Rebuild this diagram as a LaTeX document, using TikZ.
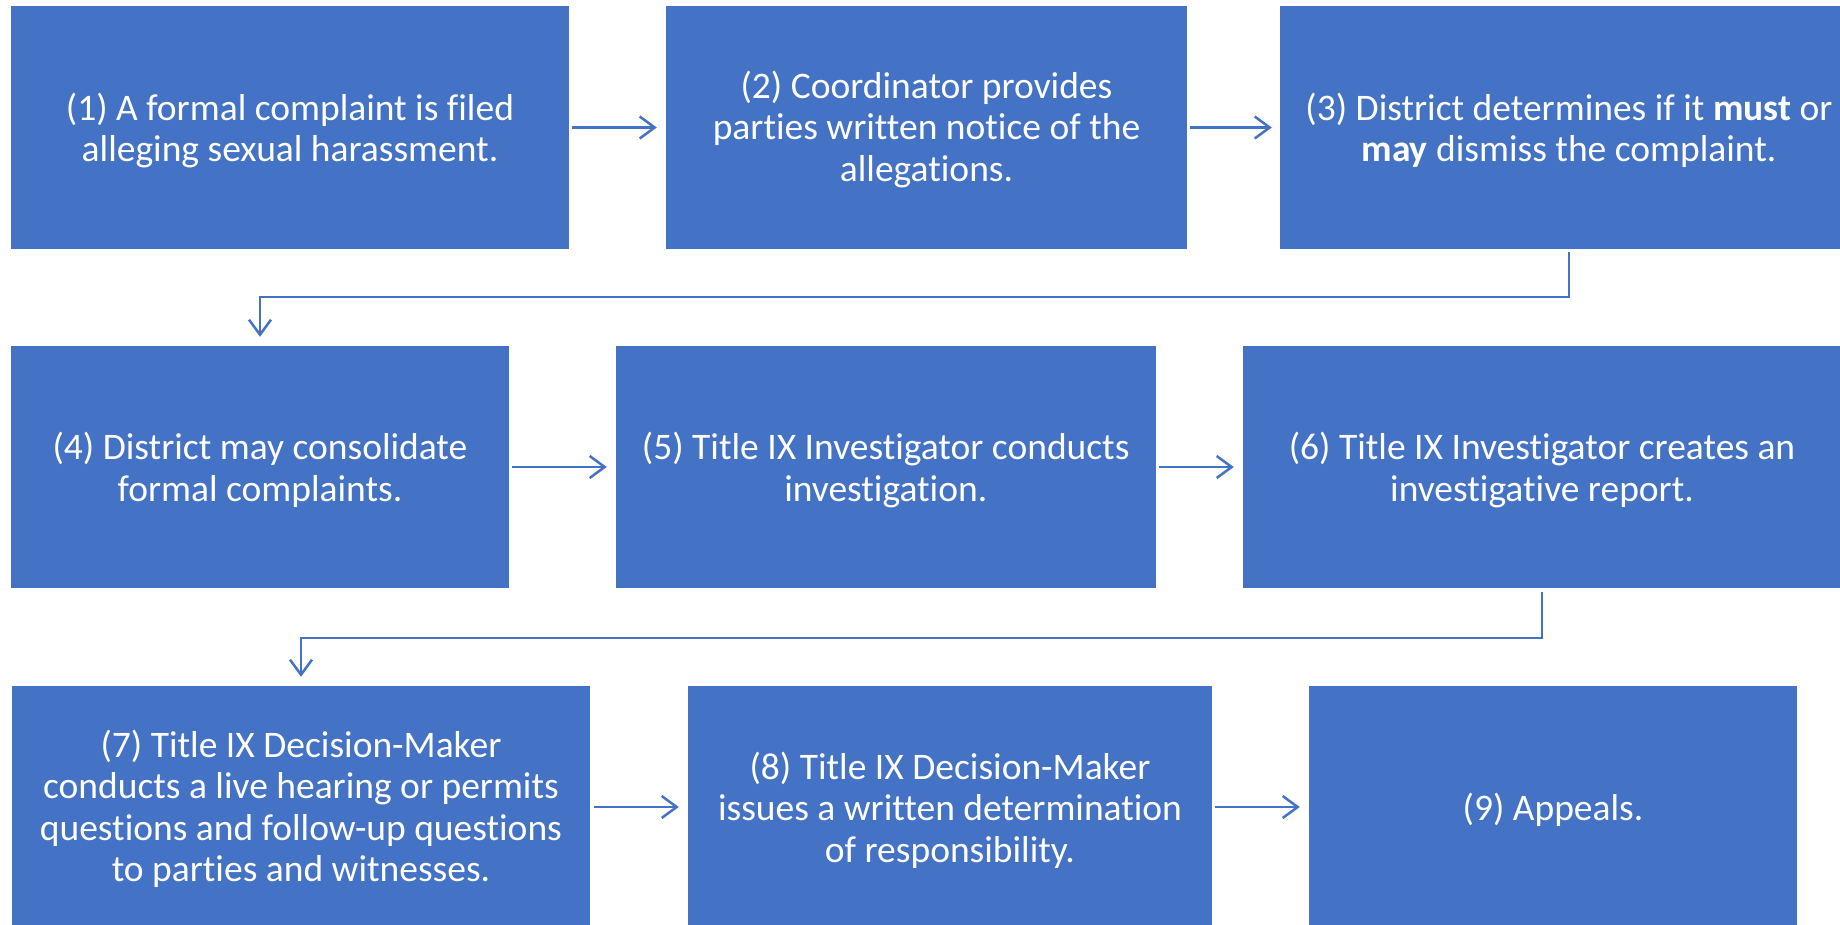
\documentclass[tikz,border=0pt]{standalone}
\usepackage{fontspec}
\setmainfont[Ligatures=NoCommon]{Carlito}
\usetikzlibrary{arrows.meta}
\definecolor{accent}{HTML}{4472C4}
\tikzset{
  stepbox/.style={fill=accent, inner sep=0pt, minimum height=242pt},
  steptext/.style={text=white, align=center, inner sep=0pt,
    font=\fontsize{37.5}{41.5}\selectfont},
  conn/.style={draw=accent, line width=2.5pt,
    -{Straight Barb[length=15pt,width=22pt]}},
}
\begin{document}
\begin{tikzpicture}[x=1pt,y=-1pt]
\path[use as bounding box, fill=white] (0,0) rectangle (1840,925);
% row 1
\node[stepbox, minimum width=558pt, minimum height=243pt] (b1) at (290,127.5) {};
\node[stepbox, minimum width=521pt, minimum height=243pt] (b2) at (926.5,127.5) {};
\node[stepbox, minimum width=578pt, minimum height=243pt] (b3) at (1569,127.5) {};
% row 2
\node[stepbox, minimum width=498pt] (b4) at (260,467) {};
\node[stepbox, minimum width=540.5pt] (b5) at (885.75,467) {};
\node[stepbox, minimum width=598pt] (b6) at (1542,467) {};
% row 3
\node[stepbox, minimum width=578pt] (b7) at (301,807) {};
\node[stepbox, minimum width=524pt] (b8) at (950,807) {};
\node[stepbox, minimum width=488pt] (b9) at (1553,807) {};
% texts
\node[steptext] (t1) at ([yshift=-3pt]b1.center)
  {(1) A formal complaint is filed\\alleging sexual harassment.};
\node[steptext] (t2) at ([yshift=-2pt]b2.center)
  {(2) Coordinator provides\\parties written notice of the\\allegations.};
\node[steptext] (t3) at ([yshift=-3pt]b3.center)
  {(3) District determines if it \textbf{must} or\\\textbf{may} dismiss the complaint.};
\node[steptext] (t4) at ([yshift=-3pt]b4.center)
  {(4) District may consolidate\\formal complaints.};
\node[steptext] (t5) at ([yshift=-3pt]b5.center)
  {(5) Title IX Investigator conducts\\investigation.};
\node[steptext] (t6) at ([yshift=-3pt]b6.center)
  {(6) Title IX Investigator creates an\\investigative report.};
\node[steptext] (t7) at ([yshift=-2pt]b7.center)
  {(7) Title IX Decision-Maker\\conducts a live hearing or permits\\questions and follow-up questions\\to parties and witnesses.};
\node[steptext] (t8) at ([yshift=-3pt]b8.center)
  {(8) Title IX Decision-Maker\\issues a written determination\\of responsibility.};
\node[steptext] (t9) at ([yshift=-3pt]b9.center)
  {(9) Appeals.};
% connectors
\draw[conn, shorten <=3pt, shorten >=9pt] (b1) -- (b2);
\draw[conn, shorten <=3pt, shorten >=8pt] (b2) -- (b3);
\draw[conn, shorten <=3pt, shorten >=8.5pt] (b4) -- (b5);
\draw[conn, shorten <=3pt, shorten >=9pt] (b5) -- (b6);
\draw[conn, shorten <=4pt, shorten >=9pt] (b7) -- (b8);
\draw[conn, shorten <=3pt, shorten >=9pt] (b8) -- (b9);
\coordinate (k1) at (1569,297);
\coordinate (k2) at (1542,638);
\draw[conn, shorten <=3pt, shorten >=9pt] (b3.south) -- (k1) -| (b4.north);
\draw[conn, shorten <=4pt, shorten >=9pt] (b6.south) -- (k2) -| (b7.north);
\end{tikzpicture}
\end{document}
